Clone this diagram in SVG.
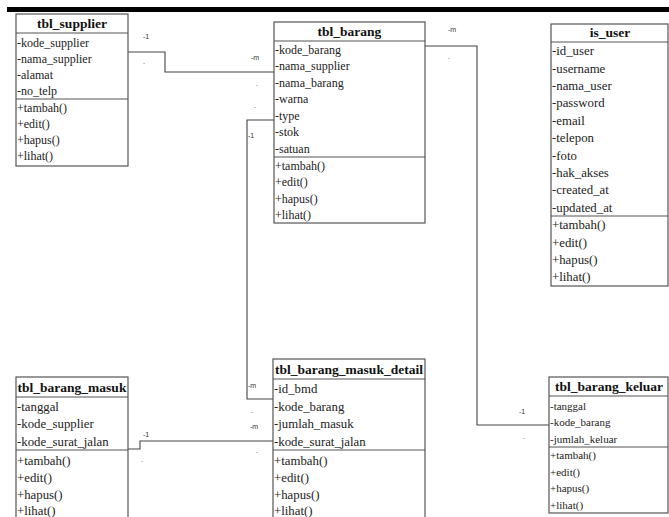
<svg xmlns="http://www.w3.org/2000/svg" width="669" height="517" viewBox="0 0 669 517">
<style>
.box{fill:#fff;stroke:#555;stroke-width:1.2}
.sep{stroke:#555;stroke-width:1.2}
.t{font-family:"Liberation Serif",serif;font-weight:bold;font-size:13.5px;fill:#111;text-anchor:middle}
.a{font-family:"Liberation Serif",serif;font-size:12px;fill:#222}
.b{font-family:"Liberation Serif",serif;font-size:12.8px;fill:#222}
.k{font-family:"Liberation Serif",serif;font-size:11px;fill:#222}
.c{fill:none;stroke:#444;stroke-width:1.1}
.l{font-family:"Liberation Sans",sans-serif;font-size:7px;fill:#333}
</style>
<rect x="7" y="7" width="662" height="5" fill="#000"/>
<g id="connectors">
<polyline class="c" points="128,52 165,52 165,72 274,72"/>
<polyline class="c" points="274,120 247,120 247,399 273,399"/>
<polyline class="c" points="128,449 140,449 140,441 273,441"/>
<polyline class="c" points="425,46 477,46 477,425 549,425"/>
<text class="l" x="143" y="39">-1</text>
<text class="l" x="143" y="64">.</text>
<text class="l" x="251" y="60">-m</text>
<text class="l" x="256" y="86">.</text>
<text class="l" x="254" y="108">.</text>
<text class="l" x="248" y="138">-1</text>
<text class="l" x="248" y="388">-m</text>
<text class="l" x="251" y="413">.</text>
<text class="l" x="250" y="429">-m</text>
<text class="l" x="256" y="453">.</text>
<text class="l" x="143" y="437">-1</text>
<text class="l" x="141" y="462">.</text>
<text class="l" x="448" y="32">-m</text>
<text class="l" x="448" y="59">.</text>
<text class="l" x="519" y="414">-1</text>
<text class="l" x="523" y="439">.</text>
</g>
<g id="tbl_supplier">
<rect class="box" x="16" y="14" width="112" height="152"/>
<line class="sep" x1="16" y1="33" x2="128" y2="33"/>
<line class="sep" x1="16" y1="99" x2="128" y2="99"/>
<text class="t" x="72" y="28">tbl_supplier</text>
<text class="a" x="17" y="47">-kode_supplier</text>
<text class="a" x="17" y="63">-nama_supplier</text>
<text class="a" x="17" y="79">-alamat</text>
<text class="a" x="17" y="95">-no_telp</text>
<text class="a" x="17" y="112">+tambah()</text>
<text class="a" x="17" y="128">+edit()</text>
<text class="a" x="17" y="144">+hapus()</text>
<text class="a" x="17" y="160">+lihat()</text>
</g>
<g id="tbl_barang">
<rect class="box" x="274" y="22" width="151" height="201"/>
<line class="sep" x1="274" y1="41" x2="425" y2="41"/>
<line class="sep" x1="274" y1="157" x2="425" y2="157"/>
<text class="t" x="349.5" y="36">tbl_barang</text>
<text class="a" x="275" y="54">-kode_barang</text>
<text class="a" x="275" y="70">-nama_supplier</text>
<text class="a" x="275" y="87">-nama_barang</text>
<text class="a" x="275" y="103">-warna</text>
<text class="a" x="275" y="120">-type</text>
<text class="a" x="275" y="136">-stok</text>
<text class="a" x="275" y="153">-satuan</text>
<text class="a" x="275" y="170">+tambah()</text>
<text class="a" x="275" y="186">+edit()</text>
<text class="a" x="275" y="203">+hapus()</text>
<text class="a" x="275" y="219">+lihat()</text>
</g>
<g id="is_user">
<rect class="box" x="551" y="24" width="117" height="262"/>
<line class="sep" x1="551" y1="42" x2="668" y2="42"/>
<line class="sep" x1="551" y1="216" x2="668" y2="216"/>
<text class="t" x="610" y="37">is_user</text>
<text class="b" x="552" y="55">-id_user</text>
<text class="b" x="552" y="73">-username</text>
<text class="b" x="552" y="90">-nama_user</text>
<text class="b" x="552" y="107">-password</text>
<text class="b" x="552" y="125">-email</text>
<text class="b" x="552" y="142">-telepon</text>
<text class="b" x="552" y="160">-foto</text>
<text class="b" x="552" y="177">-hak_akses</text>
<text class="b" x="552" y="194">-created_at</text>
<text class="b" x="552" y="212">-updated_at</text>
<text class="b" x="552" y="229">+tambah()</text>
<text class="b" x="552" y="247">+edit()</text>
<text class="b" x="552" y="264">+hapus()</text>
<text class="b" x="552" y="281">+lihat()</text>
</g>
<g id="tbl_barang_masuk">
<rect class="box" x="16" y="377" width="112" height="150"/>
<line class="sep" x1="16" y1="397" x2="128" y2="397"/>
<line class="sep" x1="16" y1="450" x2="128" y2="450"/>
<text class="t" x="72" y="392">tbl_barang_masuk</text>
<text class="b" x="17" y="411">-tanggal</text>
<text class="b" x="17" y="428">-kode_supplier</text>
<text class="b" x="17" y="446">-kode_surat_jalan</text>
<text class="b" x="17" y="465">+tambah()</text>
<text class="b" x="17" y="482">+edit()</text>
<text class="b" x="17" y="499">+hapus()</text>
<text class="b" x="17" y="515">+lihat()</text>
</g>
<g id="tbl_barang_masuk_detail">
<rect class="box" x="273" y="359" width="152" height="168"/>
<line class="sep" x1="273" y1="379" x2="425" y2="379"/>
<line class="sep" x1="273" y1="450" x2="425" y2="450"/>
<text class="t" x="349" y="374">tbl_barang_masuk_detail</text>
<text class="b" x="274" y="393">-id_bmd</text>
<text class="b" x="274" y="411">-kode_barang</text>
<text class="b" x="274" y="428">-jumlah_masuk</text>
<text class="b" x="274" y="446">-kode_surat_jalan</text>
<text class="b" x="274" y="465">+tambah()</text>
<text class="b" x="274" y="482">+edit()</text>
<text class="b" x="274" y="499">+hapus()</text>
<text class="b" x="274" y="515">+lihat()</text>
</g>
<g id="tbl_barang_keluar">
<rect class="box" x="549" y="377" width="119" height="136"/>
<line class="sep" x1="549" y1="396" x2="668" y2="396"/>
<line class="sep" x1="549" y1="447" x2="668" y2="447"/>
<text class="t" x="609" y="391">tbl_barang_keluar</text>
<text class="k" x="550" y="410">-tanggal</text>
<text class="k" x="550" y="426">-kode_barang</text>
<text class="k" x="550" y="443">-jumlah_keluar</text>
<text class="k" x="550" y="459">+tambah()</text>
<text class="k" x="550" y="476">+edit()</text>
<text class="k" x="550" y="492">+hapus()</text>
<text class="k" x="550" y="509">+lihat()</text>
</g>
</svg>
